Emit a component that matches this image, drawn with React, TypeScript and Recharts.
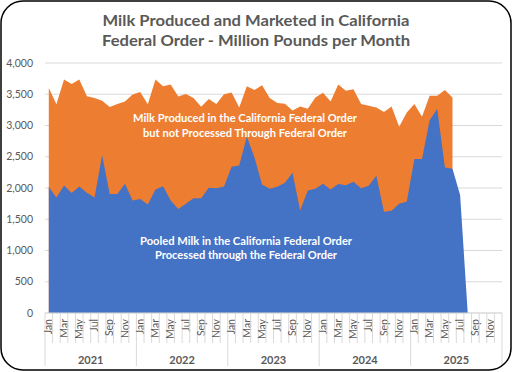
import { Area, AreaChart, CartesianGrid, XAxis, YAxis } from "recharts";

const MONTHS = ["Jan", "Feb", "Mar", "Apr", "May", "Jun", "Jul", "Aug", "Sep", "Oct", "Nov", "Dec"];
const YEARS = ["2021", "2022", "2023", "2024", "2025"];

// total milk produced in the California order (top of orange area)
const TOTAL = [
  3600, 3340, 3735, 3665, 3735, 3470, 3440, 3395, 3295, 3345, 3385, 3495,
  3535, 3340, 3735, 3630, 3655, 3465, 3505, 3440, 3300, 3425, 3345, 3500,
  3530, 3290, 3630, 3570, 3645, 3440, 3360, 3350, 3240, 3305, 3270, 3450,
  3525, 3385, 3655, 3555, 3580, 3345, 3315, 3290, 3215, 3305, 2980, 3210,
  3345, 3140, 3475, 3475, 3570, 3450
];

// pooled milk processed through the federal order (blue area)
const POOLED = [
  2015, 1850, 2040, 1920, 2025, 1925, 1850, 2525, 1905, 1905, 2070, 1800,
  1825, 1735, 1975, 2030, 1800, 1665, 1750, 1835, 1835, 2005, 1995, 2025,
  2340, 2360, 2820, 2490, 2055, 1990, 2020, 2085, 2245, 1640, 1960, 1990,
  2070, 1975, 2065, 2045, 2100, 1995, 2035, 2195, 1620, 1635, 1750, 1785,
  2465, 2465, 3085, 3265, 2330, 2310, 1890, 0
];

const Y_TICKS = [0, 500, 1000, 1500, 2000, 2500, 3000, 3500, 4000];

const data = YEARS.flatMap((year, yi) =>
  MONTHS.map((month, mi) => {
    const i = yi * 12 + mi;
    return {
      key: `${month} ${year}`,
      month,
      year,
      total: TOTAL[i] ?? null,
      pooled: POOLED[i] ?? null
    };
  })
);

const W = 512;
const H = 372;
const PLOT_W = 457;
const STEP = PLOT_W / data.length;
const GREY = "#595959";
const LINE = "#D9D9D9";
const FONT = "Lato, 'Open Sans', sans-serif";

function MonthTick(props: any) {
  const { x, y, payload } = props;
  const i = payload.index as number;
  const row = data[i];
  const left = x - STEP / 2;
  const isYearStart = i % 12 === 0;
  return (
    <g>
      <line x1={left} x2={left} y1={y} y2={y + (isYearStart ? 53 : 30)} stroke={LINE} />
      {i === data.length - 1 ? (
        <line x1={x + STEP / 2} x2={x + STEP / 2} y1={y} y2={y + 53} stroke={LINE} />
      ) : null}
      {i % 2 === 0 ? (
        <text
          x={x}
          y={y + 6}
          transform={`rotate(-90 ${x} ${y + 6})`}
          textAnchor="end"
          dy="0.35em"
          fontSize={10.5}
          fontFamily={FONT}
          fill={GREY}
        >
          {row.month}
        </text>
      ) : null}
      {i % 12 === 6 ? (
        <text x={left} y={y + 51} textAnchor="middle" fontSize={11} fontWeight="bold" fontFamily={FONT} fill={GREY}>
          {row.year}
        </text>
      ) : null}
    </g>
  );
}

export default function App() {
  return (
    <div style={{ position: "absolute", left: 0, top: 0, width: W, height: H, background: "#fff" }}>
      <AreaChart width={W} height={H} data={data} margin={{ top: 63, right: 10, bottom: 0, left: 5 }}>
        <CartesianGrid horizontal vertical={false} stroke={LINE} />
        <XAxis
          dataKey="key"
          interval={0}
          height={59}
          padding={{ left: STEP / 2, right: STEP / 2 }}
          axisLine={{ stroke: LINE }}
          tickLine={false}
          tickSize={0}
          tickMargin={0}
          tick={<MonthTick />}
        />
        <YAxis
          width={40}
          domain={[0, 4000]}
          ticks={Y_TICKS}
          axisLine={false}
          tickLine={false}
          tickSize={0}
          tickMargin={12}
          tickFormatter={(v: number) => v.toLocaleString("en-US")}
          tick={{ fill: GREY, fontSize: 10.5, fontFamily: FONT }}
        />
        <Area
          type="linear"
          dataKey="total"
          fill="#ED7D31"
          fillOpacity={1}
          stroke="none"
          isAnimationActive={false}
        />
        <Area
          type="linear"
          dataKey="pooled"
          fill="#4472C4"
          fillOpacity={1}
          stroke="none"
          isAnimationActive={false}
        />
      </AreaChart>
      <svg
        width={W}
        height={H}
        style={{ position: "absolute", left: 0, top: 0, pointerEvents: "none" }}
        fontFamily={FONT}
      >
        <rect x={1} y={1} width={W - 2} height={H - 3} rx={22} ry={22} fill="none" stroke="#000" strokeWidth={1.5} />
        <g fill={GREY} fontWeight="bold" fontSize={15} textAnchor="middle">
          <text x={256} y={26} textLength={307} lengthAdjust="spacingAndGlyphs">
            Milk Produced and Marketed in California
          </text>
          <text x={256} y={45.5} textLength={308} lengthAdjust="spacingAndGlyphs">
            Federal Order - Million Pounds per Month
          </text>
        </g>
        <g fill="#fff" fontWeight="bold" fontSize={11.5} textAnchor="middle">
          <text x={245} y={122} textLength={224} lengthAdjust="spacingAndGlyphs">
            Milk Produced in the California Federal Order
          </text>
          <text x={245} y={136.5} textLength={204} lengthAdjust="spacingAndGlyphs">
            but not Processed Through Federal Order
          </text>
          <text x={246} y={244.5} textLength={212} lengthAdjust="spacingAndGlyphs">
            Pooled Milk in the California Federal Order
          </text>
          <text x={246} y={259} textLength={182} lengthAdjust="spacingAndGlyphs">
            Processed through the Federal Order
          </text>
        </g>
      </svg>
    </div>
  );
}
